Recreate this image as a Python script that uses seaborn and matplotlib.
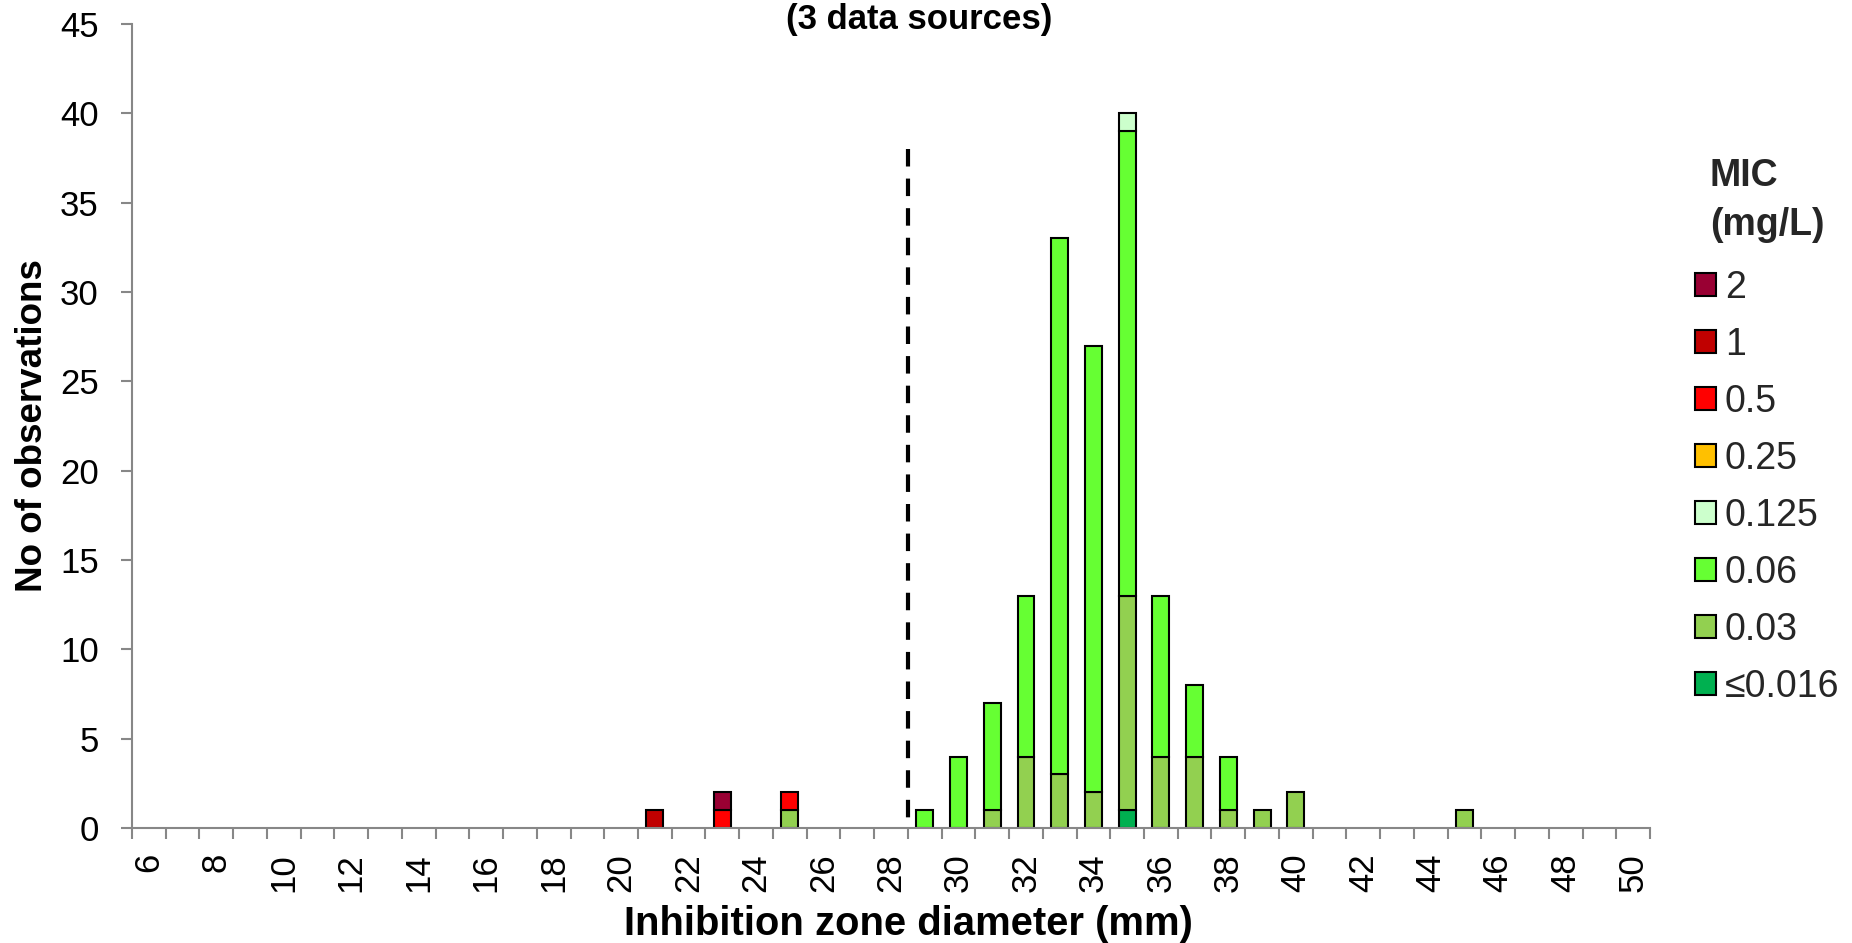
import numpy as np
import pandas as pd
import matplotlib
matplotlib.use("Agg")
import matplotlib.pyplot as plt
import seaborn as sns
from matplotlib.patches import Patch
from matplotlib.ticker import FixedLocator, NullFormatter

# ---------------- data ----------------
zone_mm = [21, 23, 23, 25, 25, 29, 30, 31, 31, 32, 32, 33, 33, 34, 34,
           35, 35, 35, 35, 36, 36, 37, 37, 38, 38, 39, 40, 45]
mic_level = ['1', '0.5', '2', '0.03', '0.5', '0.06', '0.06', '0.03', '0.06',
             '0.03', '0.06', '0.03', '0.06', '0.03', '0.06',
             '≤0.016', '0.03', '0.06', '0.125', '0.03', '0.06', '0.03', '0.06',
             '0.03', '0.06', '0.03', '0.03', '0.03']
n_obs = [1, 1, 1, 1, 1, 1, 4, 1, 6, 4, 9, 3, 30, 2, 25,
         1, 12, 26, 1, 4, 9, 4, 4, 1, 3, 1, 2, 1]

mic_order = ['2', '1', '0.5', '0.25', '0.125', '0.06', '0.03', '≤0.016']
mic_colors = ['#990033', '#C00000', '#FF0000', '#FFC000', '#CCFFCC',
              '#66FF33', '#92D050', '#00B050']

x_min, x_max = 6, 50
x_label_values = list(range(6, 51, 2))
y_tick_values = list(range(0, 46, 5))
breakpoint_mm = 28.5
breakpoint_top = 38

title_text = '(3 data sources)'
x_title = 'Inhibition zone diameter (mm)'
y_title = 'No of observations'
legend_title = 'MIC\n(mg/L)'

# ---------------- style ----------------
sns.set_theme(style='white')
plt.rcParams['font.family'] = ['Liberation Sans', 'DejaVu Sans']
axis_grey = '#878787'

df = pd.DataFrame({'zone': zone_mm, 'mic': mic_level, 'n': n_obs})
palette = dict(zip(mic_order, mic_colors))

fig = plt.figure(figsize=(18.52, 9.43), dpi=100)
W, H = 1852, 943
ax = fig.add_axes([132 / W, 1 - 828 / H, (1650 - 132) / W, (828 - 24) / H])

sns.histplot(data=df, x='zone', hue='mic', weights='n', discrete=True,
             multiple='stack', shrink=0.5, hue_order=mic_order,
             palette=palette, edgecolor='black', linewidth=1.5, alpha=1,
             legend=False, ax=ax)

# hide empty (zero height) segments so they don't draw edges on the axis
for p in ax.patches:
    if p.get_height() == 0:
        p.set_visible(False)

# dashed breakpoint line (drawn from top down)
ax.plot([breakpoint_mm, breakpoint_mm], [breakpoint_top, 0], color='black',
        lw=3, dashes=(4.2, 2.9), dash_capstyle='butt', zorder=5)

ax.set_xlim(x_min - 0.5, x_max + 0.5)
ax.set_ylim(0, 45)

# x: ticks at category boundaries, labels at centers
ax.xaxis.set_major_locator(FixedLocator(np.arange(x_min - 0.5, x_max + 1, 1)))
ax.xaxis.set_major_formatter(NullFormatter())
ax.set_xticks(x_label_values, minor=True)
ax.set_xticklabels([str(v) for v in x_label_values], minor=True, rotation=90)
ax.tick_params(axis='x', which='minor', length=0, pad=18, labelsize=25,
               labelcolor='black')
ax.tick_params(axis='x', which='major', length=8, width=1.5, color=axis_grey,
               direction='out', bottom=True)

ax.set_yticks(y_tick_values)
ax.tick_params(axis='y', which='major', length=8, width=1.5, color=axis_grey,
               direction='out', pad=16, labelsize=25, labelcolor='black',
               left=True)

for s in ['top', 'right']:
    ax.spines[s].set_visible(False)
for s in ['left', 'bottom']:
    ax.spines[s].set_color(axis_grey)
    ax.spines[s].set_linewidth(1.5)

ax.set_xlabel(x_title, fontsize=28.8, fontweight='bold', color='black')
ax.xaxis.set_label_coords((908 - 132) / 1518, -(905 - 828) / 804)
ax.set_ylabel(y_title, fontsize=26.5, fontweight='bold', color='black')
ax.yaxis.set_label_coords((50 - 132) / 1518, (828 - 426) / 804)

fig.text(919 / W, 1 - 20 / H, title_text, ha='center', va='center',
         fontsize=25, fontweight='bold', color='black')

handles = [Patch(facecolor=c, edgecolor='black', linewidth=1.5, label=l)
           for l, c in zip(mic_order, mic_colors)]
leg = fig.legend(handles=handles, title=legend_title, loc='upper left',
                 bbox_to_anchor=(1695 / W, 1 - 158 / H), frameon=False,
                 fontsize=27, title_fontproperties={'weight': 'bold', 'size': 27},
                 handlelength=0.55, handleheight=0.55, handletextpad=0.25,
                 labelspacing=0.56, borderpad=0, borderaxespad=0)
leg.get_title().set_linespacing(1.45)
leg._legend_box.sep = 19.5

fig.savefig('out.png', dpi=100, facecolor='white')
